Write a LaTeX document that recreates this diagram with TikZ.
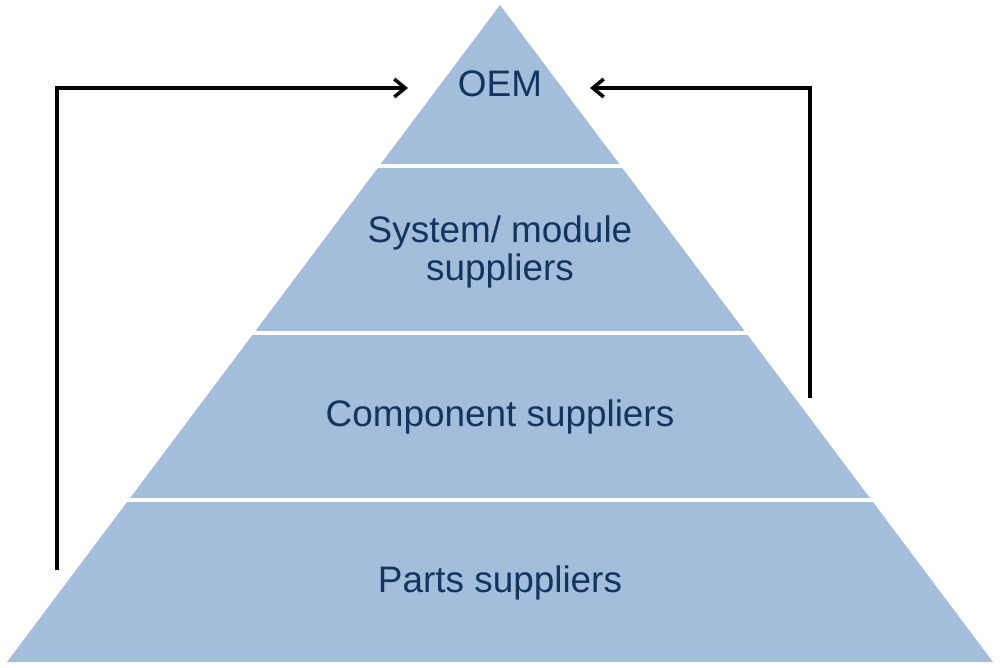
\documentclass[tikz,border=0pt]{standalone}
\usepackage{fontspec}
\setmainfont{Liberation Sans}
\usetikzlibrary{arrows.meta}
\definecolor{tierblue}{RGB}{163,190,219}
\definecolor{labelnavy}{RGB}{20,52,96}
\tikzset{
  tierlabel/.style={text=labelnavy, align=center, font=\fontsize{21}{22}\selectfont},
  gap/.style={white, line width=0.08cm},
  feedback/.style={black, line width=0.07cm, -{Straight Barb[length=2.2mm,width=3.6mm]}}
}
\begin{document}
\begin{tikzpicture}[x=0.02cm,y=-0.02cm]
\useasboundingbox (0,0) rectangle (1000,667);

\fill[tierblue] (500,5) -- (993,662) -- (7,662) -- cycle;

\draw[gap] (376,166)--(624,166);
\draw[gap] (251,333)--(749,333);
\draw[gap] (126,500)--(874,500);

\node[tierlabel] (oem) at (500,84) {OEM};
\node[tierlabel] (system) at (500,252) {System/ module\\suppliers};
\node[tierlabel] (component) at (500,417) {Component suppliers};
\node[tierlabel] (parts) at (500,583) {Parts suppliers};

\coordinate (leftfoot) at (57,570);
\coordinate (rightfoot) at (810,398);
\coordinate (leftin) at (408,88);
\coordinate (rightin) at (590,88);

\draw[feedback] (leftfoot) |- (leftin);
\draw[feedback] (rightfoot) |- (rightin);
\end{tikzpicture}
\end{document}
